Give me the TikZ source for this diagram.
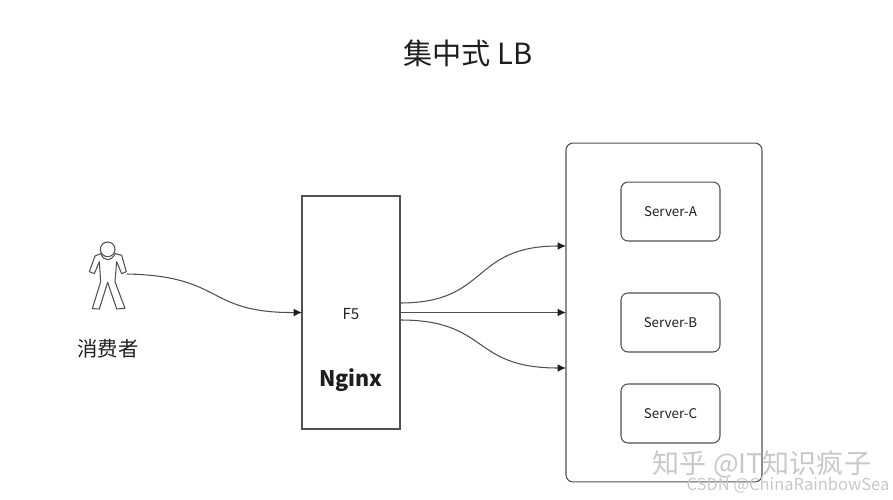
\documentclass[tikz,border=0pt]{standalone}
\usepackage{fontspec}
\setmainfont{Noto Sans CJK SC}
\usepackage{tikz}
\usetikzlibrary{arrows.meta,positioning,calc}
\definecolor{linegray}{RGB}{80,80,80}
\definecolor{textgray}{RGB}{30,30,30}
\definecolor{markgray}{RGB}{200,200,200}

\begin{document}
\begin{tikzpicture}[x=0.02cm,y=-0.02cm,->,>={Latex[length=4.8pt,width=4.4pt,color=textgray]},line width=0.6pt,
                    draw=linegray,text=textgray]
  \tikzstyle{every node}=[inner sep=0pt,outer sep=0pt]
  \tikzstyle{server}=[draw=linegray,rounded corners=4pt,minimum width=1.98cm,minimum height=1.18cm,font=\fontsize{7.6}{9}\selectfont]
  \tikzstyle{wmark}=[text=markgray]
  \useasboundingbox (0,0) rectangle (893,500);

  \node (title) at (468,53) {\fontsize{16.6}{20}\selectfont 集中式 LB};

  % balancer and pool
  \node[draw=linegray,minimum width=1.96cm,minimum height=4.66cm] (nginx) at (351,312.5) {};
  \node[draw=linegray,rounded corners=4pt,minimum width=3.92cm,minimum height=6.78cm] (pool) at (664,312.5) {};
  \node (f5) at (351,314) {\fontsize{8.6}{10}\selectfont F5};
  \node (nginxname) at (351,380) {\fontsize{12.2}{14}\selectfont\bfseries Nginx};

  \node[server] (B) at (670.5,322.5) {Server-B};
  \node[server,above=1.04cm of B] (A) {Server-A};
  \node[server,below=0.64cm of B] (C) {Server-C};

  % consumer
  \begin{scope}[shift={(60,220)},x=0.00667cm,y=-0.00667cm,-,line join=round]
    \draw (143,88) circle [radius=22];
    \draw (122,101) -- (105,108) -- (88,155) -- (103,161) -- (118,125) -- (122,185)
      -- (97,266) -- (118,267) -- (143,187) -- (170,267) -- (195,265) -- (165,185)
      -- (170,125) -- (185,161) -- (199,155) -- (185,106) -- (165,101)
      .. controls (155,125) and (132,125) .. (122,101);
  \end{scope}
  \coordinate (cons) at (127,274);
  \node (conslabel) at (108,349) {\fontsize{11.6}{14}\selectfont 消费者};

  \coordinate (upper) at ($(nginx.east)+(0,-9.5)$);
  \coordinate (lower) at ($(nginx.east)+(0,7.5)$);
  \coordinate (toA) at ($(pool.west)+(0,-66.5)$);
  \coordinate (toC) at ($(pool.west)+(0,55.5)$);

  \draw (cons) .. controls (225,276) and (205,313) .. (nginx.west);
  \draw (upper) .. controls (490,303) and (470,246) .. (toA);
  \draw (nginx.east) -- (pool.west);
  \draw (lower) .. controls (490,320) and (470,368) .. (toC);

  % marks
  \node[wmark] (zhihu) at (762,464) {\fontsize{15.4}{18}\selectfont 知乎 @IT知识疯子};
  \node[wmark] (csdn) at (788,485) {\fontsize{9.4}{11}\selectfont CSDN @ChinaRainbowSea};
\end{tikzpicture}
\end{document}
